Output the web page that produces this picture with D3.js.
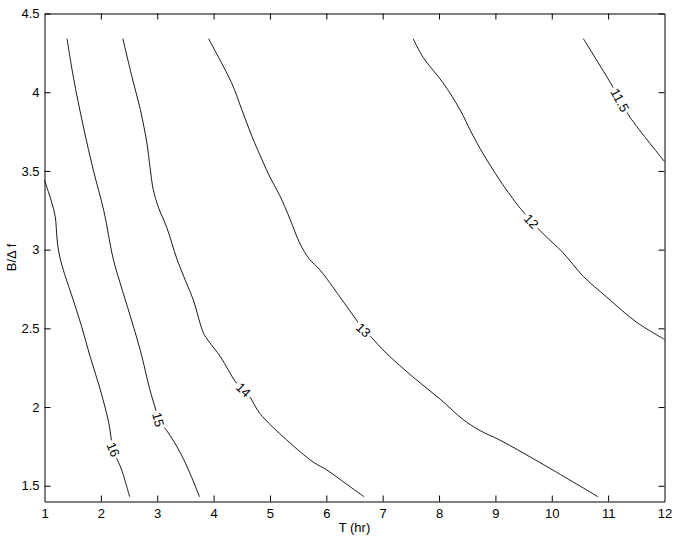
<!DOCTYPE html>
<html>
<head>
<meta charset="utf-8">
<script src="https://cdn.jsdelivr.net/npm/d3@7"></script>
<style>
  body { margin: 0; background: #fff; }
  svg { display: block; font-family: "Liberation Sans", Arial, sans-serif; }
  .axis path, .axis line { stroke: #000; }
  .axis text { font-size: 13px; fill: #000; }
  .contour { fill: none; stroke: #000; stroke-width: 0.9; }
  .clabel { font-size: 13px; fill: #000; }
</style>
</head>
<body>
<div id="chart"></div>
<script>
// contour levels and their traced (T, B/Δf) points
const levels = [16, 15, 14, 13, 12, 11.5];

const c16 = [[1.0,3.44],[1.12,3.31],[1.19,3.21],[1.22,3.08],[1.25,2.99],[1.31,2.90],[1.37,2.83],
  [1.51,2.68],[1.66,2.51],[1.81,2.32],[1.99,2.11],[2.14,1.90],[2.22,1.73],[2.37,1.60],[2.51,1.43]];
const c15 = [[1.40,4.34],[1.51,4.10],[1.69,3.78],[1.87,3.50],[2.05,3.25],[2.22,2.94],[2.34,2.79],
  [2.52,2.58],[2.70,2.36],[2.87,2.11],[2.96,2.00],[3.02,1.92],[3.17,1.85],[3.41,1.71],[3.58,1.58],[3.75,1.43]];
const c14 = [[2.39,4.34],[2.55,4.10],[2.70,3.89],[2.82,3.67],[2.87,3.53],[2.93,3.38],[3.02,3.27],
  [3.17,3.14],[3.35,2.94],[3.47,2.83],[3.64,2.68],[3.82,2.47],[3.91,2.42],[4.12,2.32],[4.41,2.15],
  [4.53,2.11],[4.65,2.06],[4.82,1.96],[5.30,1.79],[5.77,1.65],[6.01,1.60],[6.36,1.51],[6.67,1.43]];
const c13 = [[3.91,4.34],[4.12,4.20],[4.32,4.06],[4.50,3.89],[4.68,3.72],[4.86,3.57],[5.00,3.46],
  [5.18,3.34],[5.36,3.19],[5.53,3.04],[5.70,2.94],[5.89,2.87],[6.24,2.70],[6.54,2.55],[6.66,2.49],
  [6.78,2.45],[7.07,2.34],[7.54,2.19],[8.02,2.05],[8.43,1.92],[8.73,1.85],[9.08,1.79],[9.97,1.61],[10.82,1.43]];
const c12 = [[7.54,4.34],[7.72,4.22],[8.07,4.06],[8.37,3.89],[8.58,3.74],[8.78,3.61],[9.08,3.44],
  [9.38,3.29],[9.64,3.18],[9.85,3.10],[10.20,2.98],[10.56,2.83],[10.97,2.70],[11.50,2.54],[12.0,2.43]];
const c115 = [[10.56,4.34],[11.09,4.03],[11.21,3.95],[11.39,3.84],[12.0,3.56]];

const contourLines = [c16, c15, c14, c13, c12, c115];

// where each inline label sits (T, B/Δf)
const labelT = [2.22, 3.02, 4.53, 6.66, 9.64, 11.21];
const labelB = [1.73, 1.92, 2.11, 2.49, 3.18, 3.95];

const xTicks = [1, 2, 3, 4, 5, 6, 7, 8, 9, 10, 11, 12];
const yTicks = [1.5, 2, 2.5, 3, 3.5, 4, 4.5];

const width = 678, height = 539;
const margin = { top: 13.5, right: 13.5, bottom: 37.5, left: 44.5 };

const svg = d3.select("#chart").append("svg")
  .attr("width", width)
  .attr("height", height);

const x = d3.scaleLinear().domain([1, 12]).range([margin.left, width - margin.right]);
const y = d3.scaleLinear().domain([1.4, 4.5]).range([height - margin.bottom, margin.top]);

// Axes (MATLAB style box, ticks pointing inward)
svg.append("g").attr("class", "axis")
  .attr("transform", `translate(0,${height - margin.bottom})`)
  .call(d3.axisBottom(x).tickValues(xTicks).tickSizeInner(-6).tickSizeOuter(0).tickPadding(7).tickFormat(d3.format("d")));

svg.append("g").attr("class", "axis")
  .attr("transform", `translate(0,${margin.top})`)
  .call(d3.axisTop(x).tickValues(xTicks).tickSizeInner(-6).tickSizeOuter(0).tickFormat(""));

svg.append("g").attr("class", "axis")
  .attr("transform", `translate(${margin.left},0)`)
  .call(d3.axisLeft(y).tickValues(yTicks).tickSizeInner(-6).tickSizeOuter(0).tickPadding(5).tickFormat(d3.format("")));

svg.append("g").attr("class", "axis")
  .attr("transform", `translate(${width - margin.right},0)`)
  .call(d3.axisRight(y).tickValues(yTicks).tickSizeInner(-6).tickSizeOuter(0).tickFormat(""));

// hide tick lines sitting on the box corners
svg.selectAll(".axis .tick line").filter(d => d === 1 || d === 12).attr("opacity", 0);

// axis titles
svg.append("text")
  .attr("x", (margin.left + width - margin.right) / 2)
  .attr("y", 532)
  .attr("text-anchor", "middle")
  .style("font-size", "13px")
  .text("T (hr)");

svg.append("text")
  .attr("transform", `translate(16,${(margin.top + height - margin.bottom) / 2}) rotate(-90)`)
  .attr("text-anchor", "middle")
  .style("font-size", "13px")
  .text("B/Δ f");

// contour lines
const line = d3.line()
  .x(d => x(d[0]))
  .y(d => y(d[1]))
  .curve(d3.curveCatmullRom.alpha(0.5));

const plot = svg.append("g");

plot.selectAll("path.contour")
  .data(contourLines)
  .join("path")
  .attr("class", "contour")
  .attr("d", line);

// inline labels, rotated along the line with a gap behind them
levels.forEach((lev, i) => {
  const pts = contourLines[i];
  const lx = x(labelT[i]), ly = y(labelB[i]);
  // nearest segment for the angle
  let best = 0, bestD = Infinity;
  for (let k = 0; k < pts.length - 1; k++) {
    const mx = (x(pts[k][0]) + x(pts[k + 1][0])) / 2;
    const my = (y(pts[k][1]) + y(pts[k + 1][1])) / 2;
    const dd = (mx - lx) ** 2 + (my - ly) ** 2;
    if (dd < bestD) { bestD = dd; best = k; }
  }
  const a = pts[best], b = pts[best + 1];
  let ang = Math.atan2(y(b[1]) - y(a[1]), x(b[0]) - x(a[0])) * 180 / Math.PI;
  if (ang > 90) ang -= 180;
  if (ang < -90) ang += 180;

  const g = plot.append("g").attr("transform", `translate(${lx},${ly}) rotate(${ang})`);
  const t = g.append("text")
    .attr("class", "clabel")
    .attr("text-anchor", "middle")
    .attr("dy", "0.36em")
    .text(lev);
  const w = t.node().getComputedTextLength();
  g.insert("rect", "text")
    .attr("x", -w / 2 - 2)
    .attr("y", -6)
    .attr("width", w + 4)
    .attr("height", 12)
    .attr("fill", "#fff");
});
</script>
</body>
</html>
